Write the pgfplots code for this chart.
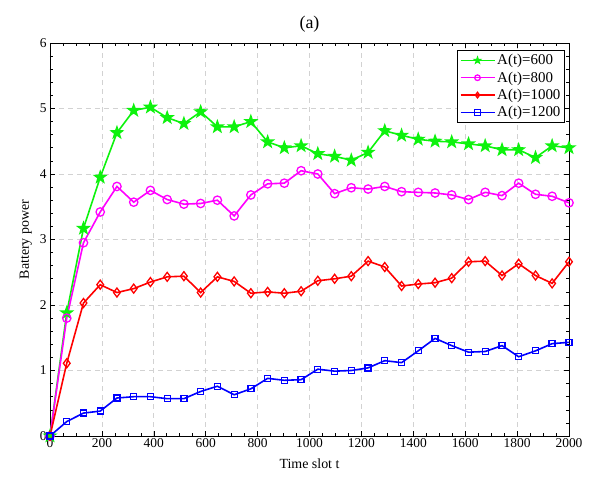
\documentclass[border=0pt]{standalone}
\usepackage{pgfplots}
\pgfplotsset{compat=1.18}
\usepackage{fontspec}
\setmainfont{Liberation Serif}
\pgfdeclareplotmark{fstar}{%
  \pgfpathmoveto{\pgfpointpolar{90}{\pgfplotmarksize}}%
  \pgfpathlineto{\pgfpointpolar{126}{0.4\pgfplotmarksize}}%
  \pgfpathlineto{\pgfpointpolar{162}{\pgfplotmarksize}}%
  \pgfpathlineto{\pgfpointpolar{198}{0.4\pgfplotmarksize}}%
  \pgfpathlineto{\pgfpointpolar{234}{\pgfplotmarksize}}%
  \pgfpathlineto{\pgfpointpolar{270}{0.4\pgfplotmarksize}}%
  \pgfpathlineto{\pgfpointpolar{306}{\pgfplotmarksize}}%
  \pgfpathlineto{\pgfpointpolar{342}{0.4\pgfplotmarksize}}%
  \pgfpathlineto{\pgfpointpolar{18}{\pgfplotmarksize}}%
  \pgfpathlineto{\pgfpointpolar{54}{0.4\pgfplotmarksize}}%
  \pgfpathclose
  \pgfusepathqfillstroke}
\definecolor{mgreen}{rgb}{0.05,0.95,0.05}
\definecolor{mmag}{rgb}{1,0,1}
\definecolor{mred}{rgb}{1,0,0}
\definecolor{mblue}{rgb}{0,0,1}
\begin{document}
\begin{tikzpicture}[x=1bp,y=1bp]
\begin{axis}[
  name=ax,
  scale only axis,
  width=519bp, height=393bp,
  xmin=0, xmax=2000, ymin=0, ymax=6,
  xtick={0,200,...,2000}, ytick={0,1,...,6},
  minor x tick num=3, minor y tick num=4,
  tick align=inside,
  major tick length=5bp, minor tick length=3bp,
  every tick/.style={black, line width=0.6pt},
  axis line style={black, line width=0.8pt},
  grid=major,
  major grid style={gray!35, dash pattern=on 5bp off 4bp, line width=0.7pt},
  /pgf/number format/assume math mode=true,
  /pgf/number format/1000 sep={},
  ticklabel style={font=\fontsize{13.5}{15}\selectfont},
  xticklabel style={yshift=1bp},
  xlabel={Time slot t}, ylabel={Battery power},
  label style={font=\fontsize{14}{16}\selectfont},
  xlabel style={yshift=-4bp},
  ylabel style={yshift=1bp},
  title={(a)},
  title style={font=\fontsize{18}{20}\selectfont, yshift=1bp},
  legend style={at={(0.992,0.982)}, anchor=north east, draw=black, line width=0.8pt,
    font=\fontsize{15}{17}\selectfont, inner sep=2bp, row sep=1.5bp,
    legend cell align=left},
  legend image code/.code={\draw[mark repeat=2,mark phase=2,#1,line width=1.5pt,mark size=2.8bp] plot coordinates {(0bp,0bp) (17bp,0bp) (34bp,0bp)};},
  every axis plot/.append style={line width=1.6pt, mark options={solid, line width=1.3pt}},
]
\addplot[color=mgreen, mark=fstar, mark size=5.5bp, mark options={fill=mgreen}] coordinates {
(0,0)(64.5,1.88)(129,3.17)(193.5,3.95)(258,4.63)(322.6,4.97)(387,5.02)(451.6,4.86)(516,4.77)(580.6,4.95)(645,4.72)(709.7,4.72)(774,4.80)(838.7,4.49)(903,4.40)(967.7,4.43)(1032,4.31)(1096.8,4.27)(1161,4.21)(1225.8,4.33)(1290,4.66)(1354.8,4.59)(1419,4.53)(1483.9,4.50)(1548,4.49)(1612.9,4.46)(1677,4.43)(1741.9,4.37)(1806,4.37)(1871,4.25)(1935,4.43)(2000,4.40)};
\addlegendentry{A(t)=600}
\addplot[color=mmag, mark=o, mark size=4.2bp] coordinates {
(0,0)(64.5,1.80)(129,2.95)(193.5,3.42)(258,3.81)(322.6,3.57)(387,3.75)(451.6,3.61)(516,3.54)(580.6,3.55)(645,3.60)(709.7,3.36)(774,3.68)(838.7,3.85)(903,3.86)(967.7,4.05)(1032,4.00)(1096.8,3.70)(1161,3.79)(1225.8,3.77)(1290,3.81)(1354.8,3.73)(1419,3.72)(1483.9,3.71)(1548,3.68)(1612.9,3.61)(1677,3.72)(1741.9,3.67)(1806,3.86)(1871,3.69)(1935,3.66)(2000,3.56)};
\addlegendentry{A(t)=800}
\addplot[color=mred, mark=diamond, mark size=4.5bp] coordinates {
(0,0)(64.5,1.11)(129,2.03)(193.5,2.31)(258,2.19)(322.6,2.25)(387,2.35)(451.6,2.43)(516,2.44)(580.6,2.19)(645,2.43)(709.7,2.36)(774,2.18)(838.7,2.20)(903,2.18)(967.7,2.21)(1032,2.37)(1096.8,2.40)(1161,2.44)(1225.8,2.67)(1290,2.58)(1354.8,2.29)(1419,2.32)(1483.9,2.34)(1548,2.41)(1612.9,2.66)(1677,2.67)(1741.9,2.45)(1806,2.63)(1871,2.45)(1935,2.33)(2000,2.66)};
\addlegendentry{A(t)=1000}
\addplot[color=mblue, mark=square, mark size=3bp] coordinates {
(0,0)(64.5,0.22)(129,0.35)(193.5,0.38)(258,0.58)(322.6,0.60)(387,0.60)(451.6,0.57)(516,0.57)(580.6,0.68)(645,0.76)(709.7,0.63)(774,0.72)(838.7,0.88)(903,0.85)(967.7,0.86)(1032,1.02)(1096.8,0.99)(1161,1.00)(1225.8,1.04)(1290,1.15)(1354.8,1.12)(1419,1.30)(1483.9,1.49)(1548,1.38)(1612.9,1.28)(1677,1.29)(1741.9,1.38)(1806,1.21)(1871,1.30)(1935,1.41)(2000,1.43)};
\addlegendentry{A(t)=1200}
\end{axis}
\path (ax.south west) ++(-50bp,-41bp) coordinate (bl);
\path (ax.north east) ++(25bp,43bp) coordinate (tr);
\useasboundingbox (bl) rectangle (tr);
\end{tikzpicture}
\end{document}
